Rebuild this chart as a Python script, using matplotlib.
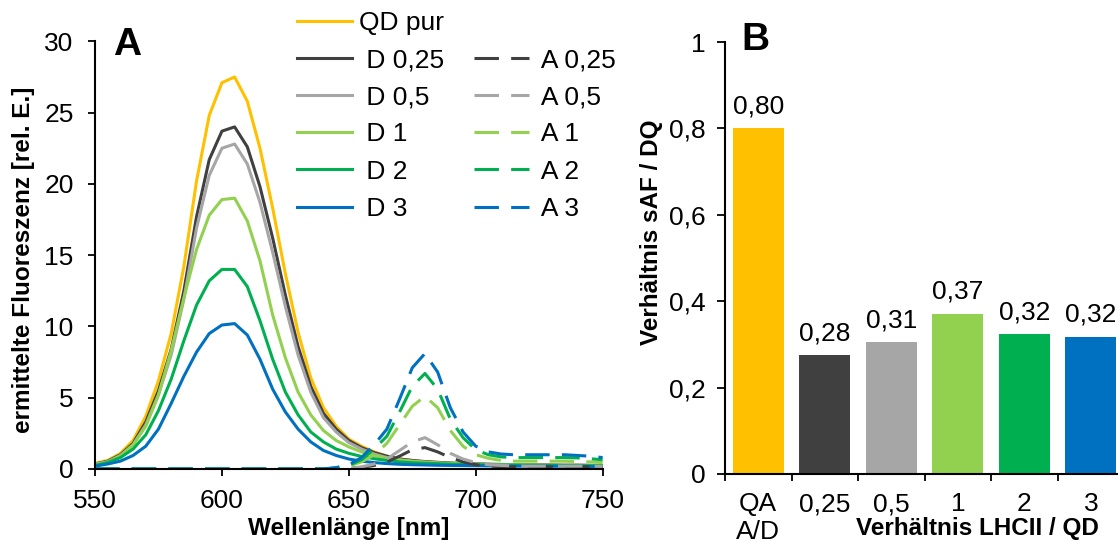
import matplotlib.pyplot as plt
from matplotlib.lines import Line2D

plt.rcParams['font.family'] = ['Liberation Sans', 'DejaVu Sans']

# Spektren (550 - 750 nm, 5 nm Schritte)
wavelength = list(range(550, 755, 5))

qd_pur = [0.4, 0.6, 1.1, 2.0, 3.7, 6.2, 9.5, 14.2, 20.2, 24.8, 27.1, 27.5, 25.8, 22.5, 18.3, 13.7,
          9.6, 6.4, 4.3, 3.0, 2.1, 1.6, 1.2, 0.9, 0.7, 0.6, 0.5, 0.45, 0.4, 0.37, 0.34, 0.32, 0.3,
          0.29, 0.28, 0.27, 0.26, 0.25, 0.25, 0.24, 0.23]
d_025 = [0.35, 0.55, 1.0, 1.8, 3.3, 5.5, 8.4, 12.5, 17.7, 21.7, 23.7, 24.0, 22.6, 19.8, 16.2, 12.2,
         8.6, 5.8, 3.9, 2.8, 2.0, 1.5, 1.15, 0.9, 0.7, 0.6, 0.52, 0.47, 0.42, 0.39, 0.36, 0.34,
         0.32, 0.31, 0.3, 0.29, 0.28, 0.27, 0.27, 0.26, 0.25]
d_05 = [0.35, 0.5, 0.95, 1.7, 3.1, 5.2, 8.0, 11.9, 16.9, 20.6, 22.5, 22.8, 21.4, 18.7, 15.2, 11.4,
        8.0, 5.4, 3.6, 2.6, 1.85, 1.4, 1.05, 0.8, 0.65, 0.55, 0.48, 0.43, 0.39, 0.36, 0.33, 0.31,
        0.3, 0.29, 0.28, 0.27, 0.26, 0.25, 0.25, 0.24, 0.23]
d_1 = [0.3, 0.5, 0.9, 1.7, 3.0, 5.2, 8.3, 12.0, 15.4, 17.8, 18.9, 19.0, 17.4, 14.6, 10.8, 7.8,
       5.4, 3.8, 2.7, 2.0, 1.55, 1.2, 0.95, 0.75, 0.62, 0.53, 0.47, 0.42, 0.38, 0.35, 0.33, 0.31,
       0.3, 0.29, 0.28, 0.27, 0.26, 0.25, 0.25, 0.24, 0.23]
d_2 = [0.25, 0.45, 0.8, 1.4, 2.4, 4.1, 6.3, 9.0, 11.5, 13.2, 14.0, 14.0, 12.8, 10.4, 7.7, 5.4,
       3.8, 2.6, 1.9, 1.4, 1.1, 0.88, 0.72, 0.6, 0.5, 0.44, 0.4, 0.37, 0.34, 0.32, 0.3, 0.29,
       0.28, 0.27, 0.26, 0.25, 0.25, 0.24, 0.24, 0.23, 0.22]
d_3 = [0.2, 0.35, 0.55, 0.95, 1.6, 2.8, 4.6, 6.5, 8.2, 9.5, 10.1, 10.2, 9.4, 7.7, 5.6, 4.0,
       2.8, 1.9, 1.3, 0.95, 0.7, 0.55, 0.45, 0.38, 0.33, 0.3, 0.28, 0.26, 0.25, 0.24, 0.23, 0.22,
       0.21, 0.2, 0.2, 0.2, 0.19, 0.19, 0.18, 0.18, 0.17]

zero_part = [0.0] * 19   # 550 - 640 nm
a_025 = zero_part + [0.02, 0.05, 0.1, 0.25, 0.5, 0.9, 1.35, 1.5, 1.2, 0.8, 0.5, 0.3, 0.2, 0.17,
                     0.15, 0.15, 0.15, 0.15, 0.15, 0.15, 0.15, 0.15]
a_05 = zero_part + [0.02, 0.05, 0.15, 0.35, 0.7, 1.3, 1.9, 2.2, 1.7, 1.1, 0.7, 0.45, 0.3, 0.25,
                    0.22, 0.2, 0.2, 0.2, 0.2, 0.2, 0.19, 0.18]
a_1 = zero_part + [0.05, 0.2, 0.5, 1.0, 1.8, 3.1, 4.4, 5.1, 4.3, 2.7, 1.6, 1.0, 0.75, 0.6,
                   0.55, 0.55, 0.55, 0.55, 0.55, 0.52, 0.5, 0.45]
a_2 = zero_part + [0.08, 0.25, 0.65, 1.4, 2.3, 4.0, 5.8, 6.7, 5.6, 3.5, 2.2, 1.35, 1.0, 0.85,
                   0.8, 0.8, 0.8, 0.8, 0.8, 0.78, 0.72, 0.65]
a_3 = zero_part + [0.1, 0.3, 0.8, 1.7, 2.8, 4.9, 7.1, 8.1, 6.8, 4.3, 2.6, 1.6, 1.2, 1.05,
                   1.0, 1.0, 1.0, 1.0, 1.0, 0.95, 0.9, 0.8]

donor_series = [qd_pur, d_025, d_05, d_1, d_2, d_3]
donor_names = ['QD pur', ' D 0,25', ' D 0,5', ' D 1', ' D 2', ' D 3']
acc_series = [a_025, a_05, a_1, a_2, a_3]
acc_names = [' A 0,25', ' A 0,5', ' A 1', ' A 2', ' A 3']

# Balken
ratio_labels = ['QA\nA/D', '0,25', '0,5', '1', '2', '3']
ratio_values = [0.80, 0.276, 0.306, 0.371, 0.323, 0.318]

colors = ['#FFC000', '#404040', '#A6A6A6', '#92D050', '#00B050', '#0070C0']

fs = 19
fs_lab = 17.5
lw = 2.2
dash = (0, (8, 4))

fig = plt.figure(figsize=(11.18, 5.42), dpi=100)
ax1 = fig.add_axes([0.085, 0.1347, 0.454, 0.789])
ax2 = fig.add_axes([0.6485, 0.1255, 0.357, 0.797])

# --- A ---
handles = []
for vals, name, c in zip(donor_series, donor_names, colors):
    h, = ax1.plot(wavelength, vals, color=c, lw=lw, label=name)
    handles.append(h)
handles.append(Line2D([], [], color='none', label=''))
for vals, name, c in zip(acc_series, acc_names, colors[1:]):
    h, = ax1.plot(wavelength, vals, color=c, lw=lw, linestyle=dash, label=name)
    handles.append(h)

ax1.set_xlim(550, 750)
ax1.set_ylim(0, 30)
ax1.set_xticks([550, 600, 650, 700, 750])
ax1.set_yticks([0, 5, 10, 15, 20, 25, 30])
ax1.set_xlabel('Wellenlänge [nm]', fontsize=fs_lab, fontweight='bold')
ax1.xaxis.set_label_coords(0.5, -0.112)
ax1.set_ylabel('ermittelte Fluoreszenz [rel. E.]', fontsize=fs_lab, fontweight='bold')
ax1.yaxis.set_label_coords(-0.118, 0.488)

ax1.legend(handles=handles, ncol=2, frameon=False, fontsize=fs, loc='upper left',
           bbox_to_anchor=(0.2657, 0.98), bbox_transform=fig.transFigure,
           borderpad=0, borderaxespad=0, handlelength=2.07, handletextpad=0.26,
           columnspacing=1.15, labelspacing=0.5)

# --- B ---
x = list(range(len(ratio_values)))
ax2.bar(x, ratio_values, width=0.77, color=colors)
for xi, v in zip(x, ratio_values):
    ax2.annotate(f'{v:.2f}'.replace('.', ','), (xi, v), xytext=(0, 7),
                 textcoords='offset points', ha='center', va='bottom', fontsize=fs)
ax2.set_xlim(-0.5, 5.5)
ax2.set_ylim(0, 1)
ax2.set_yticks([0, 0.2, 0.4, 0.6, 0.8, 1])
ax2.set_yticklabels(['0', '0,2', '0,4', '0,6', '0,8', '1'])
ax2.set_xticks(x)
ax2.set_xticklabels(ratio_labels)
ax2.set_xticks([i - 0.5 for i in range(7)], minor=True)
ax2.tick_params(axis='x', which='major', length=0, pad=13)
ax2.tick_params(axis='x', which='minor', length=5, width=1.3)
ax2.set_xlabel('Verhältnis LHCII / QD', fontsize=fs_lab, fontweight='bold')
ax2.xaxis.set_label_coords(0.632, -0.1)
ax2.set_ylabel('Verhältnis sAF / DQ', fontsize=fs_lab, fontweight='bold')
ax2.yaxis.set_label_coords(-0.155, 0.56)

for ax in (ax1, ax2):
    ax.spines['top'].set_visible(False)
    ax.spines['right'].set_visible(False)
    ax.spines['left'].set_linewidth(1.5)
    ax.spines['bottom'].set_linewidth(1.5)
    ax.tick_params(axis='both', labelsize=fs)
ax1.tick_params(axis='y', length=5, width=1.3, pad=10.5)
ax1.tick_params(axis='x', length=5, width=1.3, pad=9.5)
ax2.tick_params(axis='y', length=5.5, width=1.3, pad=8.5)

fig.text(0.1136, 0.917, 'A', fontsize=28, fontweight='bold', ha='center', va='center')
fig.text(0.6753, 0.926, 'B', fontsize=28, fontweight='bold', ha='center', va='center')

fig.savefig('out.png', dpi=100)
